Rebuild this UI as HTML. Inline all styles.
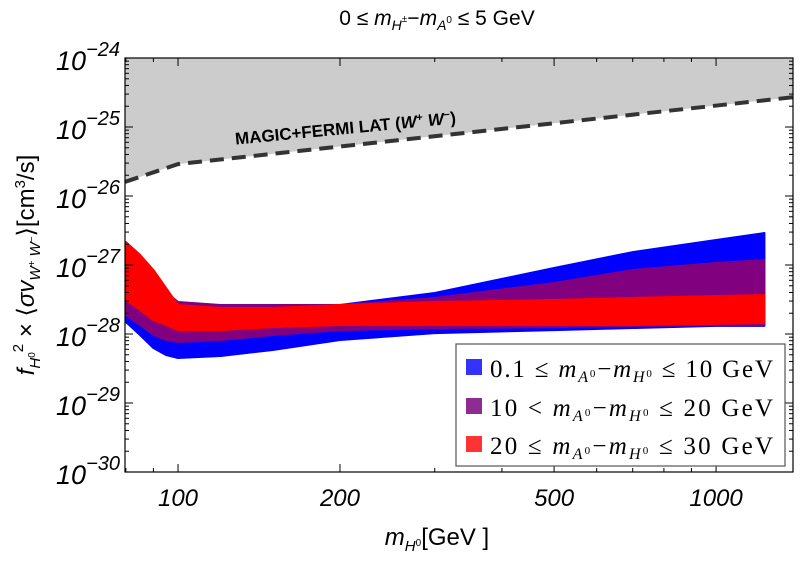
<!DOCTYPE html>
<html><head><meta charset="utf-8"><style>
body{margin:0;background:#fff;width:800px;height:556px;overflow:hidden}
svg text{font-family:"Liberation Sans",sans-serif}
svg .serif text, svg text.serif{font-family:"Liberation Serif",serif}
</style></head><body>
<svg id="c" width="800" height="556" xmlns="http://www.w3.org/2000/svg"></svg>
<script>
const masses=[80,85,90,95,100,120,150,200,300,500,700,1000,1230];
const blueUpper=[1.65e-27,1.10e-27,5.13e-28,3.11e-28,2.23e-28,2.08e-28,2.08e-28,2.63e-28,3.93e-28,9.05e-28,1.54e-27,2.30e-27,2.91e-27];
const blueLower=[1.49e-28,9.67e-29,6.27e-29,4.96e-29,4.49e-29,4.80e-29,5.86e-29,8.19e-29,1.03e-28,1.14e-28,1.22e-28,1.31e-28,1.31e-28];
const purpleUpper=[1.76e-27,1.26e-27,7.17e-28,4.06e-28,2.91e-28,2.63e-28,2.63e-28,2.63e-28,3.33e-28,5.48e-28,8.47e-28,1.07e-27,1.18e-27];
const purpleLower=[1.88e-28,1.35e-28,9.67e-29,8.19e-29,7.66e-29,8.19e-29,9.67e-29,1.14e-28,1.22e-28,1.26e-28,1.31e-28,1.35e-28,1.35e-28];
const redUpper=[2.15e-27,1.40e-27,8.47e-28,4.64e-28,2.63e-28,2.38e-28,2.38e-28,2.63e-28,2.91e-28,3.11e-28,3.33e-28,3.56e-28,3.67e-28];
const redLower=[3.11e-28,2.23e-28,1.59e-28,1.35e-28,1.14e-28,1.14e-28,1.26e-28,1.35e-28,1.35e-28,1.35e-28,1.35e-28,1.40e-28,1.44e-28];
const limitMass=[79.7,100,1390];
const limitValue=[1.6e-26,2.9e-26,2.7e-25];
const xTicks=[100,200,500,1000];
const yTicks=[-24,-25,-26,-27,-28,-29,-30];

const L=125,R=793,T=58,B=472;
const xmin=Math.log10(79.7),xmax=Math.log10(1390);
const X=m=>L+(Math.log10(m)-xmin)/(xmax-xmin)*(R-L);
const Y=v=>T+(-24-Math.log10(v))/6*(B-T);
const svg=document.getElementById('c');
const NS='http://www.w3.org/2000/svg';
function mk(tag,attrs,parent){const e=document.createElementNS(NS,tag);for(const k in attrs)e.setAttribute(k,attrs[k]);(parent||svg).appendChild(e);return e;}

let pts=limitMass.map((m,i)=>X(m)+','+Y(limitValue[i]));
const ex=mk('polygon',{points:`${L},${T} ${R},${T} `+pts.slice().reverse().join(' '),fill:'#cccccc'});


const lim=mk('polyline',{points:pts.join(' '),fill:'none',stroke:'#333',"stroke-width":4,"stroke-dasharray":"14,8"});



function band(up,lo,color,name){
  const p=masses.map((m,i)=>X(m)+','+Y(up[i])).concat(masses.map((m,i)=>X(m)+','+Y(lo[i])).reverse());
  const e=mk('polygon',{points:p.join(' '),fill:color,stroke:color,"stroke-width":2,"stroke-linejoin":"round"});
  
  
}
band(blueUpper,blueLower,'#0000ff','band-blue');
band(purpleUpper,purpleLower,'#800080','band-purple');
band(redUpper,redLower,'#ff0000','band-red');

const fr=mk('rect',{x:L,y:T,width:R-L,height:B-T,fill:'none',stroke:'#000',"stroke-width":1.2});



for(let d=10;d<=1000;d*=10)for(let k=1;k<10;k++){const m=k*d;if(m<79.7||m>1390)continue;
  const major=xTicks.includes(m);const len=major?8:4;const x=X(m);
  mk('line',{x1:x,y1:B,x2:x,y2:B-len,stroke:'#000'});mk('line',{x1:x,y1:T,x2:x,y2:T+len,stroke:'#000'});}
xTicks.forEach(m=>{const t=mk('text',{x:X(m),y:506,"text-anchor":"middle","font-size":24,"font-style":"italic"});t.textContent=m;
  });
for(let e=-30;e<-24;e++)for(let k=1;k<10;k++){const v=k*Math.pow(10,e);const y=Y(v);const len=k==1?8:4;
  mk('line',{x1:L,y1:y,x2:L+len,y2:y,stroke:'#000'});mk('line',{x1:R,y1:y,x2:R-len,y2:y,stroke:'#000'});}
yTicks.forEach(e=>{const y=Y(Math.pow(10,e));const t=mk('text',{x:120,y:y+12,"text-anchor":"end","font-size":27,"font-style":"italic"});
  t.textContent='10';const s=mk('tspan',{dy:-14,"font-size":20},t);s.textContent='−'+(-e);
  });
</script>
<svg width="800" height="556" style="position:absolute;left:0;top:0" xmlns="http://www.w3.org/2000/svg">
<text x="437" y="25" text-anchor="middle" font-size="21">0 ≤ <tspan font-style="italic">m</tspan><tspan font-size="14" dy="5" font-style="italic">H</tspan><tspan font-size="10" dy="-8">±</tspan><tspan dy="3">−</tspan><tspan font-style="italic">m</tspan><tspan font-size="14" dy="5" font-style="italic">A</tspan><tspan font-size="10" dy="-7">0</tspan><tspan dy="2"> ≤ 5 GeV</tspan></text>
<text transform="translate(346,134) rotate(-5.5)" text-anchor="middle" font-size="17" font-weight="bold">MAGIC+FERMI LAT (<tspan font-style="italic">W</tspan><tspan font-size="11" dy="-6">+</tspan><tspan dy="6"> </tspan><tspan font-style="italic">W</tspan><tspan font-size="11" dy="-6">−</tspan><tspan dy="6">)</tspan></text>
<text transform="translate(34,265) rotate(-90)" text-anchor="middle" font-size="24"><tspan font-style="italic">f</tspan><tspan font-size="15" dy="6" font-style="italic">H</tspan><tspan font-size="10" dy="-5">0</tspan><tspan font-size="15" dy="-12">2</tspan><tspan dy="11"> × ⟨</tspan><tspan font-style="italic">σv</tspan><tspan font-size="15" dy="6" font-style="italic">W</tspan><tspan font-size="10" dy="-5">+</tspan><tspan font-size="15" dy="5" font-style="italic"> W</tspan><tspan font-size="10" dy="-5">−</tspan><tspan dy="-1">⟩[cm</tspan><tspan font-size="15" dy="-9">3</tspan><tspan dy="9">/s]</tspan></text>
<text x="437" y="545" text-anchor="middle" font-size="24"><tspan font-style="italic">m</tspan><tspan font-size="15" dy="6" font-style="italic">H</tspan><tspan font-size="10" dy="-5">0</tspan><tspan dy="-1">[GeV ]</tspan></text>
<g class="serif" font-size="25">
<rect x="456" y="344" width="329" height="122" fill="#fff" stroke="#555" stroke-width="1.2"/>
<rect x="466" y="359" width="16" height="16" fill="#3333ff"/>
<text x="490" y="377" textLength="283" lengthAdjust="spacing">0.1 ≤ <tspan font-style="italic">m</tspan><tspan font-size="16" dy="5" font-style="italic">A</tspan><tspan font-size="11" dy="-5">0</tspan><tspan>−</tspan><tspan font-style="italic">m</tspan><tspan font-size="16" dy="5" font-style="italic">H</tspan><tspan font-size="11" dy="-5">0</tspan><tspan>  ≤ 10 GeV</tspan></text>
<rect x="466" y="398" width="16" height="16" fill="#8e2c94"/>
<text x="490" y="416" textLength="283" lengthAdjust="spacing">10 &lt; <tspan font-style="italic">m</tspan><tspan font-size="16" dy="5" font-style="italic">A</tspan><tspan font-size="11" dy="-5">0</tspan><tspan>−</tspan><tspan font-style="italic">m</tspan><tspan font-size="16" dy="5" font-style="italic">H</tspan><tspan font-size="11" dy="-5">0</tspan><tspan>  ≤ 20 GeV</tspan></text>
<rect x="466" y="436" width="16" height="16" fill="#ff3333"/>
<text x="490" y="454" textLength="283" lengthAdjust="spacing">20 ≤ <tspan font-style="italic">m</tspan><tspan font-size="16" dy="5" font-style="italic">A</tspan><tspan font-size="11" dy="-5">0</tspan><tspan>−</tspan><tspan font-style="italic">m</tspan><tspan font-size="16" dy="5" font-style="italic">H</tspan><tspan font-size="11" dy="-5">0</tspan><tspan>  ≤ 30 GeV</tspan></text>
</g>
</svg>
</body></html>
